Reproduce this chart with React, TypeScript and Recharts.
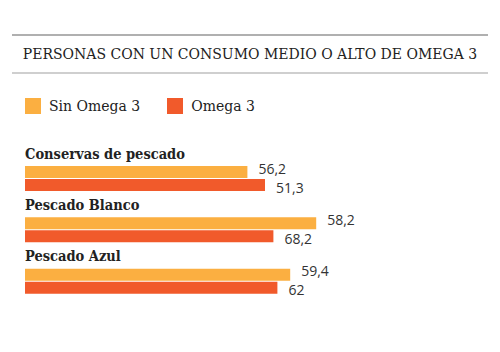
import React from 'react';
import { BarChart, Bar, XAxis, YAxis, LabelList } from 'recharts';

const categories = ['Conservas de pescado', 'Pescado Blanco', 'Pescado Azul'];
// printed value labels
const sinOmegaLabels = ['56,2', '58,2', '59,4'];
const omegaLabels = ['51,3', '68,2', '62'];
// bar lengths as drawn in the picture (scale 0-100)
const sinOmegaBars = [55.6, 72.8, 66.3];
const omegaBars = [60, 62.1, 63.1];
const seriesNames = ['Sin Omega 3', 'Omega 3'];

const SIN_COLOR = '#FBAF41';
const OMEGA_COLOR = '#F15A2B';

const data = categories.map((name, i) => ({
  name,
  sin: sinOmegaBars[i],
  omega: omegaBars[i],
  sinLabel: sinOmegaLabels[i],
  omegaLabel: omegaLabels[i],
}));

const renderCategoryTick = (props: any) => {
  const { y, payload } = props;
  return (
    <text
      x={25}
      y={y - 20}
      style={{ fontFamily: "'DejaVu Serif', serif", fontWeight: 'bold', fontSize: 14.5, fontStretch: 'condensed' }}
      fill="#222"
    >
      {payload.value}
    </text>
  );
};

const makeLabel = (dy: number) => (props: any) => {
  const { x, y, width, height, value } = props;
  return (
    <text
      x={x + width + 11}
      y={y + height / 2 + dy}
      dominantBaseline="central"
      fontFamily="'Open Sans', sans-serif"
      fontSize={14}
      fill="#333"
    >
      {value}
    </text>
  );
};

export default function App() {
  return (
    <div style={{ position: 'absolute', left: 0, top: 0, width: 500, height: 352, background: '#fff' }}>
      <div
        style={{
          position: 'absolute',
          left: 12,
          top: 34,
          width: 476,
          height: 36,
          borderTop: '2px solid #b0b0b0',
          borderBottom: '2px solid #cfcfcf',
          display: 'flex',
          alignItems: 'center',
          justifyContent: 'center',
          fontFamily: "'DejaVu Serif', serif",
          fontSize: 14,
          color: '#222',
          whiteSpace: 'nowrap',
        }}
      >
        PERSONAS CON UN CONSUMO MEDIO O ALTO DE OMEGA 3
      </div>
      <div
        style={{
          position: 'absolute',
          left: 25,
          top: 98,
          display: 'flex',
          alignItems: 'center',
          fontFamily: "'DejaVu Serif', serif",
          fontSize: 14,
          color: '#222',
          whiteSpace: 'nowrap',
        }}
      >
        <span style={{ display: 'inline-block', width: 16, height: 16, background: SIN_COLOR, marginRight: 8 }} />
        <span style={{ marginRight: 27 }}>{seriesNames[0]}</span>
        <span style={{ display: 'inline-block', width: 16, height: 16, background: OMEGA_COLOR, marginRight: 8 }} />
        <span>{seriesNames[1]}</span>
      </div>
      <div style={{ position: 'absolute', left: 0, top: 0 }}>
        <BarChart
          width={500}
          height={352}
          data={data}
          layout="vertical"
          margin={{ top: 153, right: 75, left: 24, bottom: 45 }}
          barGap={1}
        >
          <XAxis type="number" domain={[0, 100]} hide />
          <YAxis
            type="category"
            dataKey="name"
            width={1}
            axisLine={false}
            tickLine={false}
            tick={renderCategoryTick}
            interval={0}
          />
          <Bar dataKey="sin" name={seriesNames[0]} fill={SIN_COLOR} barSize={12} isAnimationActive={false}>
            <LabelList dataKey="sinLabel" content={makeLabel(-4)} />
          </Bar>
          <Bar dataKey="omega" name={seriesNames[1]} fill={OMEGA_COLOR} barSize={12} isAnimationActive={false}>
            <LabelList dataKey="omegaLabel" content={makeLabel(2)} />
          </Bar>
        </BarChart>
      </div>
    </div>
  );
}
